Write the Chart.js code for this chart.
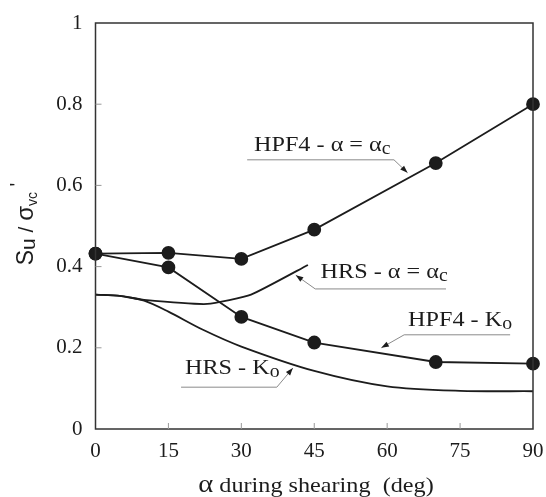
<!DOCTYPE html>
<html lang="en">
<head>
<meta charset="UTF-8">
<title>Su / σvc' vs α during shearing</title>
<script src="https://cdn.jsdelivr.net/npm/chart.js"></script>
<style>
    html, body { margin: 0; padding: 0; background: #fff; }
    #wrap { width: 546px; height: 497px; }
</style>
</head>
<body>
<div id="wrap"><canvas id="chart" width="546" height="497"></canvas></div>
<script>
// tick values + labels
const xTicks = [0, 15, 30, 45, 60, 75, 90];
const xTickLabels = ['0', '15', '30', '45', '60', '75', '90'];
const yTicks = [0, 0.2, 0.4, 0.6, 0.8, 1];
const yTickLabels = ['0', '0.2', '0.4', '0.6', '0.8', '1'];

// HPF4 - alpha = alpha_c (dots)
const hpf4AcAlpha = [0, 15, 30, 45, 70, 90];
const hpf4AcSu = [0.432, 0.434, 0.419, 0.491, 0.655, 0.80];
// HPF4 - Ko (dots)
const hpf4KoAlpha = [0, 15, 30, 45, 70, 90];
const hpf4KoSu = [0.432, 0.398, 0.276, 0.213, 0.165, 0.161];
// HRS - alpha = alpha_c (line only)
const hrsAcAlpha = [0, 5, 10, 23, 32, 43.7];
const hrsAcSu = [0.331, 0.328, 0.318, 0.308, 0.331, 0.404];
// HRS - Ko (line only)
const hrsKoAlpha = [0, 5, 10, 15, 22, 30, 45, 60, 75, 90];
const hrsKoSu = [0.331, 0.328, 0.316, 0.289, 0.245, 0.203, 0.143, 0.105, 0.094, 0.093];

const INK = '#1c1c1c';
const SERIF = '"Liberation Serif", "DejaVu Serif", serif';
const SANS = '"Liberation Sans", Arial, sans-serif';

function pts(xs, ys) {
    return xs.map((x, i) => ({ x: x, y: ys[i] }));
}

// text pieces drawn one after another: {t, size, dy, fam}; sx = horizontal stretch
function richWidth(ctx, parts, sx) {
    let w = 0;
    parts.forEach(p => {
        ctx.font = (p.size || 22) + 'px ' + (p.fam || SERIF);
        w += ctx.measureText(p.t).width;
    });
    return w * (sx || 1);
}
function drawRich(ctx, parts, x, y, sx) {
    ctx.save();
    ctx.translate(x, y);
    ctx.scale(sx || 1, 1);
    let cx = 0;
    parts.forEach(p => {
        ctx.font = (p.size || 22) + 'px ' + (p.fam || SERIF);
        ctx.fillText(p.t, cx, p.dy || 0);
        cx += ctx.measureText(p.t).width;
    });
    ctx.restore();
}

// labels with leader lines, in data units
const labels = [
    { parts: [{ t: 'HPF4 - α = α' }, { t: 'c', size: 18, dy: 4 }], x: 32.6, y: 0.70,
      leader: [[31.2, 0.663], [61.4, 0.663], [64.2, 0.631]] },
    { parts: [{ t: 'HRS - α = α' }, { t: 'c', size: 18, dy: 4 }], x: 46.3, y: 0.387,
      leader: [[72.1, 0.345], [45.2, 0.345], [41.2, 0.379]] },
    { parts: [{ t: 'HPF4 - K' }, { t: 'o', size: 18, dy: 4 }], x: 64.3, y: 0.268,
      leader: [[85.3, 0.232], [63.5, 0.232], [58.8, 0.200]] },
    { parts: [{ t: 'HRS - K' }, { t: 'o', size: 18, dy: 4 }], x: 18.4, y: 0.150,
      leader: [[17.6, 0.103], [37.3, 0.103], [40.6, 0.150]] }
];

const decorPlugin = {
    id: 'decor',
    afterDraw(chart) {
        const ctx = chart.ctx;
        const a = chart.chartArea;
        const xs = chart.scales.x, ys = chart.scales.y;
        ctx.save();

        // frame
        ctx.strokeStyle = '#333';
        ctx.lineWidth = 1.5;
        ctx.strokeRect(a.left, a.top, a.right - a.left, a.bottom - a.top);

        // inward ticks
        ctx.strokeStyle = '#999';
        ctx.lineWidth = 1;
        xTicks.slice(1, -1).forEach(v => {
            const px = xs.getPixelForValue(v);
            ctx.beginPath(); ctx.moveTo(px, a.bottom); ctx.lineTo(px, a.bottom - 6); ctx.stroke();
        });
        yTicks.slice(1, -1).forEach(v => {
            const py = ys.getPixelForValue(v);
            ctx.beginPath(); ctx.moveTo(a.left, py); ctx.lineTo(a.left + 6, py); ctx.stroke();
        });

        // annotation labels
        ctx.textBaseline = 'middle';
        ctx.textAlign = 'left';
        labels.forEach(l => {
            ctx.fillStyle = INK;
            drawRich(ctx, l.parts, xs.getPixelForValue(l.x), ys.getPixelForValue(l.y), 1.1);
            const p = l.leader.map(q => [xs.getPixelForValue(q[0]), ys.getPixelForValue(q[1])]);
            ctx.strokeStyle = '#8a8a8a';
            ctx.lineWidth = 1;
            ctx.beginPath();
            ctx.moveTo(p[0][0], p[0][1]);
            for (let i = 1; i < p.length; i++) ctx.lineTo(p[i][0], p[i][1]);
            ctx.stroke();
            // arrow head at the last point
            const t = p[p.length - 1], s = p[p.length - 2];
            const ang = Math.atan2(t[1] - s[1], t[0] - s[0]);
            ctx.beginPath();
            ctx.moveTo(t[0], t[1]);
            ctx.lineTo(t[0] - 8 * Math.cos(ang - 0.35), t[1] - 8 * Math.sin(ang - 0.35));
            ctx.lineTo(t[0] - 8 * Math.cos(ang + 0.35), t[1] - 8 * Math.sin(ang + 0.35));
            ctx.closePath();
            ctx.fill();
        });

        // x axis title
        const xt = [{ t: 'α', size: 26 }, { t: ' during shearing  (deg)', size: 22 }];
        ctx.textBaseline = 'alphabetic';
        const xw = richWidth(ctx, xt, 1.1);
        drawRich(ctx, xt, 316 - xw / 2, 492, 1.1);

        // y axis title (rotated)
        const yt = [{ t: 'S', size: 23, fam: SANS }, { t: 'u', size: 21, dy: 2, fam: SANS },
                    { t: ' / ', size: 21, fam: SANS }, { t: 'σ', size: 24, fam: SANS },
                    { t: 'vc', size: 14, dy: 4, fam: SANS }, { t: " '", size: 20, dy: -9, fam: SANS }];
        ctx.save();
        ctx.translate(33, 224);
        ctx.rotate(-Math.PI / 2);
        const yw = richWidth(ctx, yt);
        drawRich(ctx, yt, -yw / 2, 0);
        ctx.restore();

        ctx.restore();
    }
};

const lineBase = { borderColor: INK, backgroundColor: INK, borderWidth: 1.8, fill: false };

new Chart(document.getElementById('chart'), {
    type: 'line',
    data: {
        datasets: [
            Object.assign({ label: 'HPF4 - α = αc', data: pts(hpf4AcAlpha, hpf4AcSu), pointRadius: 6, tension: 0 }, lineBase),
            Object.assign({ label: 'HPF4 - Ko', data: pts(hpf4KoAlpha, hpf4KoSu), pointRadius: 6, tension: 0 }, lineBase),
            Object.assign({ label: 'HRS - α = αc', data: pts(hrsAcAlpha, hrsAcSu), pointRadius: 0, tension: 0.15 }, lineBase),
            Object.assign({ label: 'HRS - Ko', data: pts(hrsKoAlpha, hrsKoSu), pointRadius: 0, tension: 0.3 }, lineBase)
        ]
    },
    options: {
        responsive: false,
        animation: false,
        clip: false,
        layout: { padding: { top: 23, right: 13, left: 0, bottom: 0 } },
        plugins: { legend: { display: false }, tooltip: { enabled: false } },
        scales: {
            x: {
                type: 'linear', min: 0, max: 90,
                afterBuildTicks: s => { s.ticks = xTicks.map(v => ({ value: v })); },
                afterFit: s => { s.height = 68; s.paddingLeft = 0; s.paddingRight = 0; },
                grid: { display: false, drawTicks: false },
                border: { display: false },
                ticks: {
                    padding: 10, color: INK, maxRotation: 0,
                    font: { family: SERIF, size: 21 },
                    callback: (v) => xTickLabels[xTicks.indexOf(v)]
                }
            },
            y: {
                type: 'linear', min: 0, max: 1,
                afterBuildTicks: s => { s.ticks = yTicks.map(v => ({ value: v })); },
                afterFit: s => { s.width = 95.5; s.paddingTop = 0; s.paddingBottom = 0; },
                grid: { display: false, drawTicks: false },
                border: { display: false },
                ticks: {
                    padding: 13, color: INK,
                    font: { family: SERIF, size: 21 },
                    callback: (v) => yTickLabels[yTicks.indexOf(v)]
                }
            }
        }
    },
    plugins: [decorPlugin]
});
</script>
</body>
</html>
